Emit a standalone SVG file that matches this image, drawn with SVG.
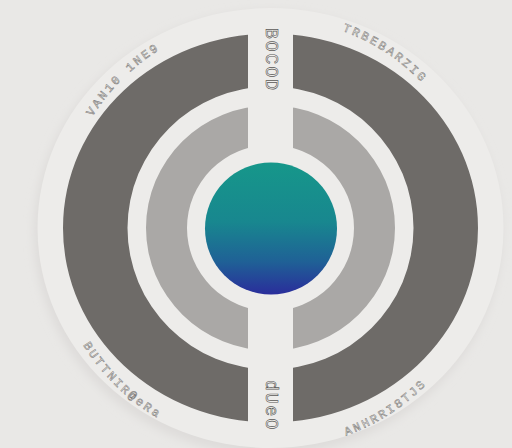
<svg xmlns="http://www.w3.org/2000/svg" width="512" height="448" viewBox="0 0 512 448">
  <style>
    .lbl { font-family: "Liberation Mono", "DejaVu Sans Mono", monospace; font-size: 12px; fill: #f0efed; stroke: #7a7876; stroke-width: 0.5; letter-spacing: 2.5px; }
    .vlbl { font-family: "Liberation Mono", "DejaVu Sans Mono", monospace; font-size: 18px; fill: #f0efed; stroke: #5a5856; stroke-width: 0.6; letter-spacing: 2px; }
  </style>
  <defs>
    <clipPath id="split">
      <rect x="0" y="0" width="248" height="448"/>
      <rect x="293" y="0" width="219" height="448"/>
    </clipPath>
    <linearGradient id="coreGrad" x1="0" y1="0" x2="0" y2="1">
      <stop offset="0" stop-color="#16978a"/>
      <stop offset="0.45" stop-color="#18878f"/>
      <stop offset="0.75" stop-color="#1f6196"/>
      <stop offset="1" stop-color="#2a2d9b"/>
    </linearGradient>
    <filter id="soft" x="-10%" y="-10%" width="120%" height="120%">
      <feGaussianBlur stdDeviation="5"/>
    </filter>
    <path id="pTL" d="M92.4,116.7 A210,210 0 0 1 181.8,37.7"/>
    <path id="pTR" d="M342.3,30.7 A210,210 0 0 1 452.4,123"/>
    <path id="pBL" d="M83.1,345.1 A221,221 0 0 0 187.7,432.9"/>
    <path id="pBR" d="M346.1,435.7 A221,221 0 0 0 439.8,370.1"/>
  </defs>

  <rect width="512" height="448" fill="#e9e8e6"/>

  <g id="disc">
    <ellipse cx="268" cy="233" rx="234" ry="222" fill="#dedcda" filter="url(#soft)"/>
    <ellipse cx="270.5" cy="228" rx="233" ry="220" fill="#edecea"/>
  </g>

  <g id="outer-ring" clip-path="url(#split)">
    <path fill="#6e6b68" fill-rule="evenodd" d="M63,228 A207.5,194.5 0 1 0 478,228 A207.5,194.5 0 1 0 63,228 Z M127.5,228 A143,141.5 0 1 1 413.5,228 A143,141.5 0 1 1 127.5,228 Z"/>
  </g>

  <g id="middle-ring" clip-path="url(#split)">
    <path fill="#aaa8a6" fill-rule="evenodd" d="M146,228 A124.5,122.5 0 1 0 395,228 A124.5,122.5 0 1 0 146,228 Z M187,228 A83.5,83 0 1 1 354,228 A83.5,83 0 1 1 187,228 Z"/>
  </g>

  <g id="core">
    <circle cx="271" cy="228.5" r="66" fill="url(#coreGrad)"/>
  </g>

  <g id="label-top-left">
    <text class="lbl"><textPath href="#pTL">VAN10 1NE9</textPath></text>
  </g>
  <g id="label-top-right">
    <text class="lbl"><textPath href="#pTR">TRBEBARZIG</textPath></text>
  </g>
  <g id="label-bottom-left">
    <text class="lbl"><textPath href="#pBL">BUTTNIR@eRa</textPath></text>
  </g>
  <g id="label-bottom-right">
    <text class="lbl"><textPath href="#pBR">ANHRRI8TJS</textPath></text>
  </g>
  <g id="label-gap-top">
    <text class="vlbl" transform="translate(270.5,28) rotate(90)" dominant-baseline="central">BOCOD</text>
  </g>
  <g id="label-gap-bottom">
    <text class="vlbl" transform="translate(270.5,380) rotate(90)" dominant-baseline="central">dUeO</text>
  </g>
  <g id="connectors"></g>
</svg>
